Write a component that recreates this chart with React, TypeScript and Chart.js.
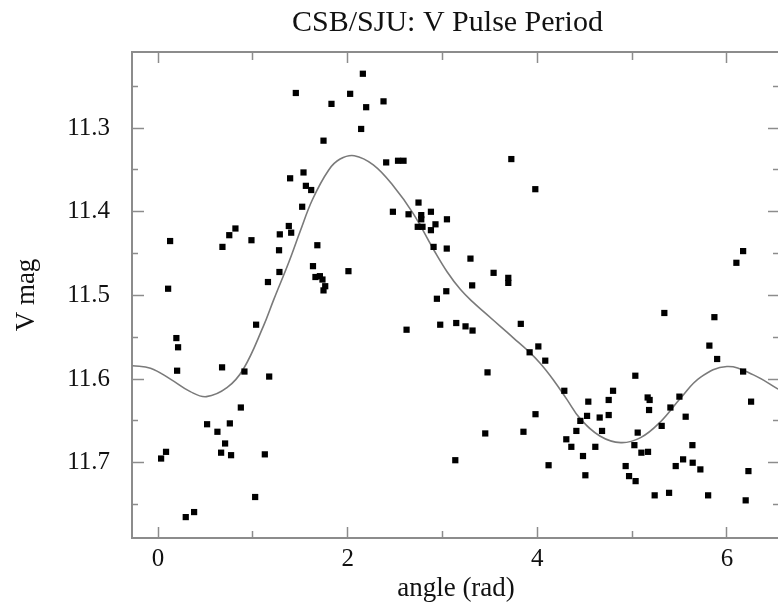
import React, { useEffect, useRef } from 'react';
import { Chart, registerables } from 'chart.js';

Chart.register(...registerables);

// ---- data ----
const pointX = [
  1.453, 2.026, 1.829, 1.745, 1.534, 1.393, 1.559, 1.615, 1.520, 1.379,
  1.404, 1.284, 0.816, 0.751, 0.679, 0.985, 0.127, 1.276, 1.680, 1.634,
  1.660, 1.707, 1.734, 1.763, 1.745, 1.280, 1.159, 0.106, 2.008, 2.160,
  2.195, 2.378, 2.142, 2.406, 2.531, 2.589, 3.726, 3.979, 2.747, 2.477,
  2.642, 2.776, 2.776, 2.878, 3.047, 2.739, 2.789, 2.878, 2.926, 2.906,
  3.045, 3.295, 3.539, 3.694, 3.694, 3.313, 3.040, 2.941, 6.171, 6.100,
  1.034, 0.193, 0.211, 0.201, 0.675, 0.911, 1.172, 0.873, 0.517, 0.626,
  0.757, 0.707, 0.665, 0.770, 0.084, 0.032, 1.126, 1.024, 0.292, 0.380,
  2.621, 2.976, 3.145, 3.243, 3.317, 3.826, 3.919, 4.011, 4.084, 3.475,
  3.981, 3.451, 3.854, 3.135, 4.119, 4.285, 5.340, 5.868, 5.815, 5.897,
  6.171, 5.034, 4.538, 4.753, 4.799, 5.164, 5.185, 5.179, 5.499, 5.404,
  6.255, 4.525, 4.454, 4.658, 4.753, 5.565, 4.412, 4.683, 5.059, 5.312,
  4.306, 4.359, 4.612, 5.024, 5.098, 5.168, 5.636, 4.482, 4.932, 5.460,
  5.538, 5.639, 5.720, 4.507, 4.968, 5.037, 6.227, 5.238, 5.390, 5.802,
  6.198,
];
const pointY = [
  11.258, 11.259, 11.271, 11.315, 11.353, 11.360, 11.369, 11.374, 11.394, 11.417,
  11.425, 11.427, 11.420, 11.428, 11.442, 11.434, 11.435, 11.446, 11.440, 11.465,
  11.478, 11.477, 11.481, 11.489, 11.494, 11.472, 11.484, 11.492, 11.471, 11.235,
  11.275, 11.268, 11.301, 11.341, 11.339, 11.339, 11.337, 11.373, 11.389, 11.400,
  11.403, 11.404, 11.409, 11.400, 11.409, 11.418, 11.418, 11.422, 11.415, 11.442,
  11.444, 11.456, 11.473, 11.479, 11.485, 11.488, 11.495, 11.504, 11.447, 11.461,
  11.535, 11.551, 11.562, 11.590, 11.586, 11.591, 11.597, 11.634, 11.654, 11.663,
  11.653, 11.677, 11.688, 11.691, 11.687, 11.695, 11.690, 11.741, 11.765, 11.759,
  11.541, 11.535, 11.533, 11.537, 11.542, 11.534, 11.568, 11.561, 11.578, 11.592,
  11.642, 11.665, 11.663, 11.697, 11.703, 11.614, 11.521, 11.526, 11.560, 11.576,
  11.591, 11.596, 11.627, 11.625, 11.614, 11.622, 11.625, 11.637, 11.621, 11.634,
  11.627, 11.644, 11.650, 11.646, 11.643, 11.645, 11.662, 11.662, 11.664, 11.656,
  11.672, 11.681, 11.681, 11.679, 11.688, 11.687, 11.679, 11.692, 11.704, 11.704,
  11.696, 11.700, 11.708, 11.715, 11.716, 11.722, 11.710, 11.739, 11.736, 11.739,
  11.745,
];

const curveX = [
  -0.27, -0.08, 0.13, 0.34, 0.51, 0.73, 0.90, 1.11, 1.22, 1.38, 1.50, 1.63, 1.80,
  1.92, 2.07, 2.27, 2.48, 2.69, 2.91, 3.05, 3.19, 3.33, 3.47, 3.61, 3.75, 3.89,
  4.03, 4.17, 4.31, 4.45, 4.66, 4.88, 5.09, 5.30, 5.51, 5.72, 6.00, 6.28, 6.54,
];
const curveY = [
  11.584, 11.587, 11.600, 11.615, 11.621, 11.610, 11.588, 11.537, 11.505, 11.460,
  11.423, 11.385, 11.350, 11.337, 11.333, 11.344, 11.369, 11.402, 11.446, 11.472,
  11.493, 11.509, 11.523, 11.537, 11.551, 11.565, 11.581, 11.601, 11.624, 11.647,
  11.668, 11.676, 11.670, 11.651, 11.623, 11.598, 11.585, 11.595, 11.612,
];

const xMajorTicks = [0, 2, 4, 6];
const yMajorTicks = [11.3, 11.4, 11.5, 11.6, 11.7];

const X_MIN = -0.275;
const X_MAX = 6.56;
const Y_MIN = 11.209;
const Y_MAX = 11.79;

const FRAME = '#8c8c8c';
const TEXT = '#111111';
const FONT = 'Liberation Serif';

const isMajorX = (v: number) => xMajorTicks.some((t) => Math.abs(t - v) < 1e-6);
const isMajorY = (v: number) => yMajorTicks.some((t) => Math.abs(t - v) < 1e-6);

export default function App() {
  const ref = useRef<HTMLCanvasElement | null>(null);

  useEffect(() => {
    document.body.style.margin = '0';
    document.body.style.overflow = 'hidden';
    document.documentElement.style.overflow = 'hidden';
    const canvas = ref.current;
    if (!canvas) return;

    const points = pointX.map((x, i) => ({ x, y: pointY[i] }));
    const curve = curveX.map((x, i) => ({ x, y: curveY[i] }));

    const tickFont = { family: FONT, size: 25 };
    const titleFont = { family: FONT, size: 27 };

    const chart = new Chart(canvas, {
      type: 'scatter',
      data: {
        datasets: [
          {
            label: 'V',
            data: points,
            pointStyle: 'rect',
            pointRadius: 4.4,
            pointBorderWidth: 0,
            backgroundColor: '#000',
            borderColor: '#000',
            xAxisID: 'x',
            yAxisID: 'y',
          },
          {
            label: 'fit',
            data: curve,
            showLine: true,
            pointRadius: 0,
            borderColor: '#7a7a7a',
            borderWidth: 1.6,
            tension: 0.4,
            fill: false,
            xAxisID: 'x',
            yAxisID: 'y',
          } as any,
        ],
      },
      options: {
        animation: false,
        responsive: false,
        devicePixelRatio: 1,
        layout: { padding: 0 },
        plugins: {
          legend: { display: false },
          tooltip: { enabled: false },
          title: {
            display: true,
            text: 'CSB/SJU: V Pulse Period',
            color: TEXT,
            font: { family: FONT, size: 30, weight: 'normal' },
            padding: { top: 5, bottom: 11 },
          },
        },
        scales: {
          x: {
            type: 'linear',
            position: 'bottom',
            min: X_MIN,
            max: X_MAX,
            ticks: {
              stepSize: 1,
              includeBounds: false,
              autoSkip: false,
              maxRotation: 0,
              padding: 17,
              color: TEXT,
              font: tickFont,
              callback: (v: any) => (isMajorX(Number(v)) ? String(Math.round(Number(v))) : ''),
            },
            grid: {
              drawOnChartArea: false,
              drawTicks: true,
              tickLength: -11,
              tickColor: FRAME,
              tickWidth: 1.5,
              tickBorderDash: (ctx: any) => (isMajorX(ctx.tick.value) ? [] : [8, 100]),
            },
            border: { display: true, color: FRAME, width: 2 },
            title: {
              display: true,
              text: 'angle (rad)',
              color: TEXT,
              font: titleFont,
              padding: { top: 0, bottom: 0 },
            },
            afterFit: (s: any) => {
              s.height = 67;
            },
          },
          x2: {
            type: 'linear',
            position: 'top',
            min: X_MIN,
            max: X_MAX,
            ticks: { stepSize: 1, includeBounds: false, display: false },
            grid: {
              drawOnChartArea: false,
              drawTicks: true,
              tickLength: -11,
              tickColor: FRAME,
              tickWidth: 1.5,
              tickBorderDash: (ctx: any) => (isMajorX(ctx.tick.value) ? [] : [0, 3, 9, 100]),
            },
            border: { display: true, color: FRAME, width: 2 },
            afterFit: (s: any) => {
              s.height = 0;
            },
          },
          y: {
            type: 'linear',
            position: 'left',
            reverse: true,
            min: Y_MIN,
            max: Y_MAX,
            ticks: {
              stepSize: 0.05,
              includeBounds: false,
              autoSkip: false,
              padding: 34,
              color: TEXT,
              font: tickFont,
              callback: (v: any) => (isMajorY(Number(v)) ? Number(v).toFixed(1) : ''),
            },
            grid: {
              drawOnChartArea: false,
              drawTicks: true,
              tickLength: -12,
              tickColor: FRAME,
              tickWidth: 1.5,
              tickBorderDash: (ctx: any) => (isMajorY(ctx.tick.value) ? [] : [0, 6, 7, 100]),
            },
            border: { display: true, color: FRAME, width: 2 },
            title: {
              display: true,
              text: 'V mag',
              color: TEXT,
              font: titleFont,
              padding: { top: 11, bottom: 0 },
            },
            afterFit: (s: any) => {
              s.width = 132;
            },
          },
          y2: {
            type: 'linear',
            position: 'right',
            reverse: true,
            min: Y_MIN,
            max: Y_MAX,
            ticks: { stepSize: 0.05, includeBounds: false, display: false },
            grid: {
              drawOnChartArea: false,
              drawTicks: true,
              tickLength: -12,
              tickColor: FRAME,
              tickWidth: 1.5,
              tickBorderDash: (ctx: any) => (isMajorY(ctx.tick.value) ? [] : [8, 100]),
            },
            border: { display: true, color: FRAME, width: 2 },
            afterFit: (s: any) => {
              s.width = 115;
            },
          },
        },
      } as any,
    });

    return () => {
      chart.destroy();
    };
  }, []);

  return (
    <div style={{ width: 778, height: 605, overflow: 'hidden', background: '#fff' }}>
      <canvas ref={ref} width={895} height={605} style={{ display: 'block', width: 895, height: 605 }} />
    </div>
  );
}
